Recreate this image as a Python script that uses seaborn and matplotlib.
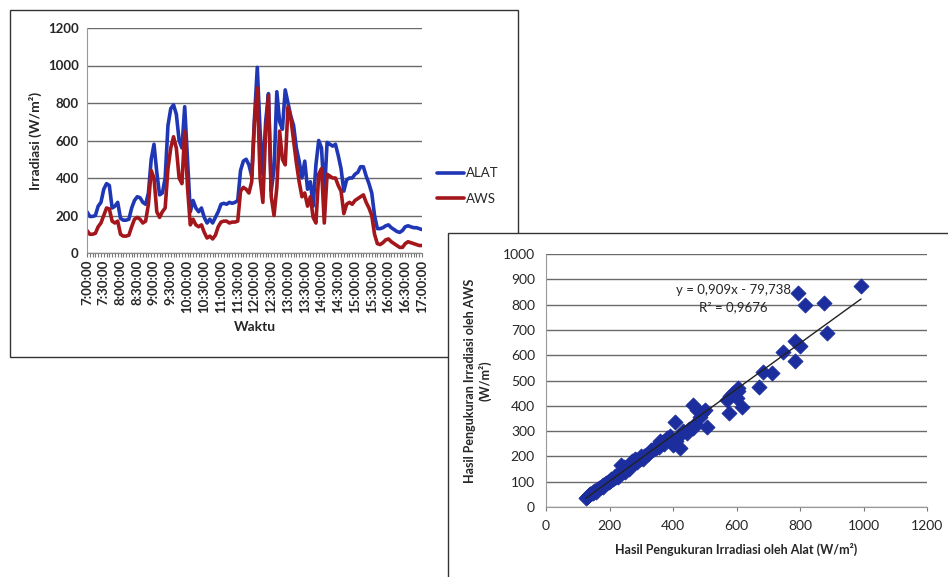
import matplotlib
matplotlib.use("Agg")
import matplotlib.pyplot as plt
import matplotlib.patches as mpatches
import numpy as np
import pandas as pd
import seaborn as sns

# ---------------- data ----------------
time_labels = ["7:00:00", "7:30:00", "8:00:00", "8:30:00", "9:00:00", "9:30:00",
               "10:00:00", "10:30:00", "11:00:00", "11:30:00", "12:00:00", "12:30:00",
               "13:00:00", "13:30:00", "14:00:00", "14:30:00", "15:00:00", "15:30:00",
               "16:00:00", "16:30:00", "17:00:00"]

alat = [220, 195, 195, 200, 250, 270, 340, 370, 360, 240, 250, 270, 185, 175, 175, 180,
        240, 280, 300, 295, 270, 260, 320, 500, 580, 430, 310, 320, 400, 680, 770, 790,
        740, 600, 560, 780, 500, 220, 280, 240, 220, 240, 190, 160, 180, 160, 190, 220,
        260, 265, 260, 270, 265, 270, 280, 440, 490, 500, 470, 410, 720, 990, 650, 420,
        700, 850, 330, 450, 860, 700, 660, 870, 800, 730, 680, 560, 490, 400, 490, 340,
        380, 250, 470, 600, 560, 300, 590, 580, 570, 580, 520, 450, 330, 390, 400, 400,
        420, 430, 460, 460, 410, 370, 320, 200, 130, 130, 135, 145, 150, 135, 125, 115,
        110, 120, 140, 145, 140, 135, 135, 130, 125]

aws = [120, 100, 100, 105, 140, 160, 200, 240, 235, 170, 160, 170, 100, 90, 90, 95,
       140, 180, 190, 180, 160, 170, 260, 440, 400, 220, 190, 220, 240, 450, 560, 620,
       560, 400, 370, 650, 350, 150, 180, 150, 140, 150, 110, 80, 90, 75, 95, 140,
       165, 170, 170, 160, 165, 165, 170, 330, 350, 340, 320, 380, 700, 880, 400, 270,
       650, 840, 300, 200, 350, 650, 500, 470, 780, 720, 600, 480, 380, 300, 320, 250,
       300, 190, 160, 420, 450, 160, 420, 410, 400, 400, 360, 330, 210, 260, 270, 260,
       280, 290, 300, 310, 270, 240, 200, 100, 50, 45, 55, 70, 75, 60, 50, 40,
       30, 30, 50, 60, 55, 50, 45, 40, 40]

sc_alat = [125, 128, 132, 136, 140, 144, 148, 152, 156, 160, 164, 168, 172, 176, 180,
           185, 190, 195, 200, 205, 210, 215, 220, 225, 230, 235, 240, 245, 250, 255,
           260, 265, 270, 275, 280, 285, 290, 295, 300, 310, 320, 330, 340, 350, 360,
           370, 380, 235, 245, 255, 270, 280, 380, 401, 407, 422, 443, 464, 464, 475,
           501, 506, 569, 575, 580, 590, 601, 606, 606, 617, 672, 685, 711, 748, 785,
           785, 799, 795, 816, 876, 885, 992, 150, 205, 330, 360, 390,
           138, 158, 178, 198, 218, 238, 262, 288, 305, 315, 335, 345, 355, 365, 375,
           395, 410, 420, 430, 450, 470, 485, 490, 250, 228, 268, 282, 300, 372]
sc_aws = [35, 40, 42, 47, 50, 55, 57, 60, 66, 68, 72, 75, 78, 82, 86,
          90, 94, 98, 102, 108, 110, 116, 120, 126, 128, 134, 138, 144, 148, 152,
          158, 162, 166, 172, 176, 180, 185, 190, 194, 202, 210, 220, 230, 240, 248,
          258, 266, 165, 160, 155, 180, 190, 272, 246, 334, 233, 292, 404, 312, 384,
          384, 318, 424, 371, 437, 450, 430, 457, 470, 397, 476, 532, 529, 613, 578,
          657, 637, 847, 799, 808, 687, 874, 62, 112, 224, 262, 280,
          52, 60, 80, 100, 122, 140, 150, 178, 190, 205, 225, 232, 236, 252, 262,
          255, 262, 280, 300, 310, 330, 355, 370, 140, 118, 170, 184, 200, 250]

slope, intercept = 0.909, -79.738

# ---------------- style ----------------
sns.set_style("white")
plt.rcParams["font.family"] = ["Lato", "DejaVu Sans"]

BLUE = "#1f37b5"
RED = "#a3161b"
MBLUE = "#1c2e9e"
GRID = "#6a6a6a"

fig = plt.figure(figsize=(9.48, 5.77), dpi=100)
W, H = 948, 577

def fx(px):
    return px / W

def fy(py):
    return 1 - py / H

# panel 1 frame
p1 = mpatches.Rectangle((fx(10), fy(357)), fx(518) - fx(10), fy(10) - fy(357),
                        transform=fig.transFigure, fill=True, facecolor="white",
                        edgecolor="#333333", lw=1.0, zorder=-2)
fig.add_artist(p1)

# ---------------- line chart ----------------
ax1 = fig.add_axes([fx(87), fy(253), fx(422) - fx(87), fy(28) - fy(253)])
ax1.set_zorder(0)
ax1.patch.set_alpha(0)
minutes = np.arange(len(alat)) * 5
df_line = pd.DataFrame({"t": np.concatenate([minutes, minutes]),
                        "v": alat + aws,
                        "s": ["ALAT"] * len(alat) + ["AWS"] * len(aws)})
sns.lineplot(data=df_line, x="t", y="v", hue="s", palette={"ALAT": BLUE, "AWS": RED},
             lw=2.6, ax=ax1, legend=False)
ax1.set_xlim(0, 600)
ax1.set_ylim(0, 1200)
ax1.set_yticks(range(0, 1201, 200))
ax1.set_xticks(np.arange(0, 601, 30))
ax1.set_xticklabels(time_labels, rotation=90, fontsize=9.5, fontweight="bold")
ax1.set_xticks(minutes, minor=True)
for lab in ax1.get_yticklabels():
    lab.set_fontsize(9.5)
    lab.set_fontweight("bold")
ax1.tick_params(axis="x", which="both", direction="out", length=3, width=0.8,
                color="#777777", bottom=True, pad=2)
ax1.tick_params(axis="y", length=0, pad=6)
ax1.yaxis.grid(True, color=GRID, lw=1.0)
ax1.set_axisbelow(True)
for s in ["top", "right"]:
    ax1.spines[s].set_visible(False)
ax1.spines["left"].set_color("#999999")
ax1.spines["left"].set_linestyle((0, (2, 1)))
ax1.spines["bottom"].set_color("#888888")
ax1.set_xlabel("Waktu", fontsize=10, fontweight="bold", labelpad=6)
ax1.set_ylabel("Irradiasi (W/m²)", fontsize=10, fontweight="bold", labelpad=4)

h1 = plt.Line2D([], [], color=BLUE, lw=2.6)
h2 = plt.Line2D([], [], color=RED, lw=2.6)
fig.legend([h1, h2], ["ALAT", "AWS"], loc="center left",
           bbox_to_anchor=(fx(428), fy(186)), frameon=False, fontsize=9.5,
           handlelength=2.0, handletextpad=0.15, labelspacing=1.0,
           borderaxespad=0.3)

# panel 2 frame (on top of panel 1)
p2 = mpatches.Rectangle((fx(448), fy(590)), fx(960) - fx(448), fy(233) - fy(590),
                        transform=fig.transFigure, fill=True, facecolor="white",
                        edgecolor="#333333", lw=1.0, zorder=1)
fig.add_artist(p2)

# ---------------- scatter ----------------
ax2 = fig.add_axes([fx(546), fy(507), fx(927) - fx(546), fy(254) - fy(507)])
ax2.set_zorder(2)
ax2.patch.set_alpha(0)
df_sc = pd.DataFrame({"x": sc_alat, "y": sc_aws})
sns.scatterplot(data=df_sc, x="x", y="y", marker="D", s=60, color=MBLUE,
                edgecolor=MBLUE, linewidth=0.5, ax=ax2, zorder=3)
xl = np.array([min(sc_alat), max(sc_alat)])
ax2.plot(xl, slope * xl + intercept, color="#222222", lw=1.0, zorder=4)
ax2.text(591, 858, "y = 0,909x - 79,738", ha="center", va="center", fontsize=9.5)
ax2.text(591, 790, "R² = 0,9676", ha="center", va="center", fontsize=9.5)
ax2.set_xlim(0, 1200)
ax2.set_ylim(0, 1000)
ax2.set_xticks(range(0, 1201, 200))
ax2.set_yticks(range(0, 1001, 100))
for lab in ax2.get_xticklabels() + ax2.get_yticklabels():
    lab.set_fontsize(10)
ax2.tick_params(axis="x", direction="out", length=3, color="#777777", bottom=True, pad=6)
ax2.tick_params(axis="y", length=0, pad=8)
ax2.yaxis.grid(True, color=GRID, lw=1.0)
ax2.set_axisbelow(True)
for s in ["top", "right"]:
    ax2.spines[s].set_visible(False)
ax2.spines["left"].set_color("#999999")
ax2.spines["left"].set_linestyle((0, (2, 1)))
ax2.spines["bottom"].set_color("#999999")
ax2.spines["bottom"].set_linestyle((0, (2, 1)))
ax2.set_xlabel("Hasil Pengukuran Irradiasi oleh Alat (W/m²)", fontsize=9,
               fontweight="bold", labelpad=8)
ax2.set_ylabel("Hasil Pengukuran Irradiasi oleh AWS\n(W/m²)", fontsize=9,
               fontweight="bold", labelpad=8)

fig.savefig("out.png", dpi=100, facecolor="white")
